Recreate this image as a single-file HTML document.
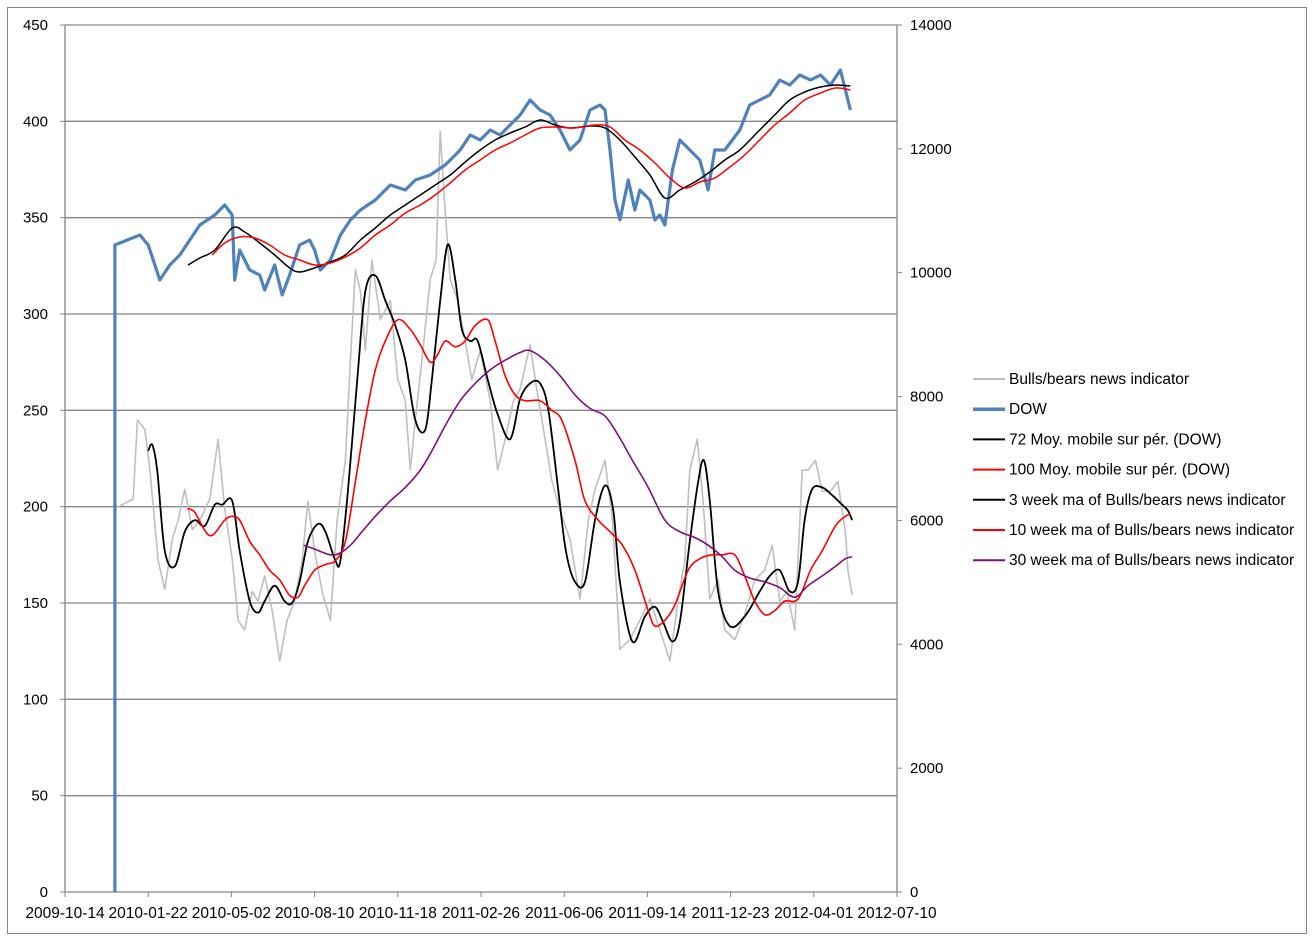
<!DOCTYPE html>
<html><head><meta charset="utf-8"><style>
body{margin:0;background:#fff;}
svg{display:block;font-family:"Liberation Sans",sans-serif;}
</style></head><body>
<svg id="chart" width="1314" height="941" xmlns="http://www.w3.org/2000/svg">
<rect x="7.5" y="7.5" width="1299" height="926" fill="#fff" stroke="#868686"/>
<g id="grid"></g><g id="axes"></g><g id="series"></g><g id="legend"></g>
</svg>
<script>
const leftTicks=[0,50,100,150,200,250,300,350,400,450];
const rightTicks=[0,2000,4000,6000,8000,10000,12000,14000];
const dateLabels=["2009-10-14","2010-01-22","2010-05-02","2010-08-10","2010-11-18","2011-02-26","2011-06-06","2011-09-14","2011-12-23","2012-04-01","2012-07-10"];
// day offsets from 2009-10-14
const greyDays=[60,82,87,96,102,112,120,129,136,144,153,162,174,184,192,201,208,216,225,232,240,249,258,267,276,285,292,300,309,319,327,337,343,349,355,361,369,379,391,400,409,415,421,429,439,446,451,456,463,472,481,489,499,511,520,529,539,547,559,567,577,585,595,607,619,629,637,649,658,667,679,691,703,715,727,737,745,751,760,767,775,785,793,805,817,829,841,850,859,868,877,886,893,902,910,920,929,938,941,946];
const greyVals=[199,204,245,240,219,172,157,183,193,209,188,193,204,235,199,173,141,136,156,151,164,146,120,141,151,172,203,177,156,141,193,224,276,323,312,281,328,297,307,266,255,219,245,276,318,328,395,359,318,307,286,266,281,255,219,235,255,261,284,261,235,214,198,183,152,193,209,224,193,126,131,141,152,136,120,152,172,219,235,203,152,162,136,131,144,162,167,180,151,156,136,219,219,224,208,208,213,187,167,154];
const dowDays=[60,90,100,108,114,126,138,150,162,180,192,201,204,210,222,234,240,252,261,270,282,294,300,307,319,331,343,355,373,391,409,421,439,457,475,487,499,511,523,535,547,559,571,583,595,607,619,631,643,649,655,661,667,677,685,691,703,709,715,721,730,739,751,763,773,781,793,811,823,835,847,859,871,883,896,908,920,932,938,944];
const dowVals=[10448,10609,10448,10125,9883,10125,10286,10529,10771,10932,11094,10932,9883,10367,10044,9963,9721,10125,9640,9963,10448,10529,10367,10044,10206,10609,10851,11013,11174,11417,11336,11497,11578,11740,11982,12224,12143,12305,12224,12386,12547,12789,12628,12547,12305,11982,12143,12628,12708,12628,11982,11174,10851,11497,11013,11336,11174,10851,10932,10771,11659,12143,11982,11820,11336,11982,11982,12305,12708,12789,12870,13112,13031,13193,13112,13193,13031,13274,12951,12628];
const ma72Days=[148,162,180,201,216,234,252,270,282,300,319,337,355,373,391,409,427,445,463,481,499,517,535,553,571,589,607,631,649,667,685,703,721,739,757,775,793,811,835,853,871,889,908,926,944];
const ma72Vals=[10125,10238,10367,10722,10658,10480,10286,10077,10012,10077,10173,10286,10529,10722,10932,11094,11255,11417,11578,11788,11982,12143,12256,12353,12466,12386,12337,12369,12337,12143,11869,11578,11207,11336,11465,11627,11820,11982,12305,12547,12789,12918,12999,13031,13015];
const ma100Days=[177,192,210,228,246,264,282,300,319,337,355,373,391,409,427,445,463,481,499,517,535,553,571,589,613,637,655,673,691,709,727,745,763,781,799,817,835,853,871,889,908,926,944];
const ma100Vals=[10286,10480,10577,10561,10448,10286,10206,10125,10157,10254,10399,10609,10771,10965,11094,11255,11449,11659,11820,11982,12095,12224,12337,12353,12337,12386,12353,12143,11982,11772,11530,11368,11465,11530,11707,11901,12143,12386,12579,12789,12902,12983,12951];
const w3Days=[100,105,111,120,132,144,156,168,180,189,201,210,222,232,240,252,264,273,282,292,304,313,325,331,340,352,361,373,385,397,409,421,433,441,451,460,469,477,487,496,508,520,535,547,559,571,581,593,602,613,625,637,649,659,667,682,697,709,719,730,739,751,761,768,775,785,799,817,835,847,859,871,881,889,898,910,922,934,941,946];
const w3Vals=[229,232,218,177,169,187,193,190,201,201,203,177,151,145,151,159,151,150,161,182,191,187,172,172,208,270,312,320,307,294,276,245,240,266,307,336,318,292,286,286,266,248,235,256,264,264,250,208,177,161,161,193,211,198,161,130,143,148,140,130,140,182,213,224,203,156,138,143,156,164,167,156,161,193,209,210,206,201,198,193];
const w10Days=[147,156,174,192,201,210,222,234,246,258,270,280,288,300,313,325,337,349,361,373,385,400,415,427,439,448,457,469,481,493,508,517,529,541,553,571,585,597,613,625,641,655,670,685,701,709,721,733,749,763,778,790,805,817,829,841,853,865,881,896,910,926,938,944];
const w10Vals=[199,197,185,193,195,193,182,175,167,162,154,153,159,167,170,172,182,213,245,271,286,297,292,284,275,279,286,283,286,294,297,286,268,258,255,255,250,245,224,203,193,187,180,167,146,138,141,149,167,173,175,175,175,164,151,144,146,151,152,167,177,190,195,196];
const w30Days=[287,300,319,331,343,357,373,391,409,427,441,457,475,493,511,529,547,559,577,595,613,631,649,665,682,701,721,739,757,773,790,805,823,841,859,877,893,910,926,938,946];
const w30Vals=[180,178,175,176,180,187,195,203,210,219,229,242,255,264,271,276,280,281,276,268,258,251,247,237,224,210,193,187,184,180,174,167,163,161,158,153,159,164,169,173,174];

const NS="http://www.w3.org/2000/svg";
const X0=65,X1=897,Y0=892,Y1=25;
const xOf=d=>X0+d*(X1-X0)/1000;
const yL=v=>Y0-v*(Y0-Y1)/450;
const yR=v=>Y0-v*(Y0-Y1)/14000;
function mk(tag,attrs,parent){const e=document.createElementNS(NS,tag);for(const k in attrs)e.setAttribute(k,attrs[k]);parent.appendChild(e);return e;}
const grid=document.getElementById('grid'),axes=document.getElementById('axes'),series=document.getElementById('series'),legend=document.getElementById('legend');
leftTicks.forEach(v=>{
  if(v>0){const g=mk('line',{x1:X0,x2:X1,y1:yL(v),y2:yL(v),stroke:'#868686','stroke-width':1.3},grid);
  
  }
  mk('line',{x1:X0-5,x2:X0,y1:yL(v),y2:yL(v),stroke:'#868686'},axes);
  const t=mk('text',{x:48,y:yL(v)+5,'text-anchor':'end','font-size':15,fill:'#000'},axes);t.textContent=v;
  
  
});
rightTicks.forEach(v=>{
  mk('line',{x1:X1,x2:X1+5,y1:yR(v),y2:yR(v),stroke:'#868686'},axes);
  const t=mk('text',{x:910,y:yR(v)+5,'font-size':15,fill:'#000'},axes);t.textContent=v;
  
  
});
dateLabels.forEach((s,i)=>{
  const x=xOf(i*100);
  mk('line',{x1:x,x2:x,y1:Y0,y2:Y0+5,stroke:'#868686'},axes);
  const t=mk('text',{x:x,y:918,'text-anchor':'middle','font-size':15.5,fill:'#000'},axes);t.textContent=s;
  
  
});
[[X0,Y1,X0,Y0],[X1,Y1,X1,Y0],[X0,Y0,X1,Y0]].forEach(a=>{const l=mk('line',{x1:a[0],y1:a[1],x2:a[2],y2:a[3],stroke:'#868686','stroke-width':1.3},axes);
  
  });
function pathD(P,smooth){
  let d='M'+P[0][0].toFixed(1)+','+P[0][1].toFixed(1);
  for(let i=1;i<P.length;i++){
    if(!smooth){d+=' L'+P[i][0].toFixed(1)+','+P[i][1].toFixed(1);continue;}
    const p0=P[Math.max(0,i-2)],p1=P[i-1],p2=P[i],p3=P[Math.min(P.length-1,i+1)];
    const c1=[p1[0]+(p2[0]-p0[0])/6,p1[1]+(p2[1]-p0[1])/6],c2=[p2[0]-(p3[0]-p1[0])/6,p2[1]-(p3[1]-p1[1])/6];
    d+=' C'+c1[0].toFixed(1)+','+c1[1].toFixed(1)+' '+c2[0].toFixed(1)+','+c2[1].toFixed(1)+' '+p2[0].toFixed(1)+','+p2[1].toFixed(1);
  }
  return d;
}
function line(days,vals,yf,color,w,name,smooth,pre){
  let P=days.map((d,i)=>[xOf(d),yf(vals[i])]);
  if(pre)P=[pre].concat(P);
  const p=mk('path',{d:pathD(P,smooth),fill:'none',stroke:color,'stroke-width':w,'stroke-linejoin':'round'},series);
  
  
}
line(greyDays,greyVals,yL,'#bfbfbf',1.6,'bulls-bears-line',false);
line(dowDays,dowVals,yR,'#4f81bd',3.2,'dow-line',false,[xOf(dowDays[0]),Y0]);
line(ma72Days,ma72Vals,yR,'#000',1.5,'dow-72-ma-line',true);
line(ma100Days,ma100Vals,yR,'#ff0000',1.5,'dow-100-ma-line',true);
line(w3Days,w3Vals,yL,'#000',1.8,'bb-3week-ma-line',true);
line(w10Days,w10Vals,yL,'#ff0000',1.6,'bb-10week-ma-line',true);
line(w30Days,w30Vals,yL,'#7f0f7f',1.6,'bb-30week-ma-line',true);
const legendItems=[["Bulls/bears news indicator","#bfbfbf",2],["DOW","#4f81bd",3.5],["72 Moy. mobile sur pér. (DOW)","#000",2],["100 Moy. mobile sur pér. (DOW)","#ff0000",2],["3 week ma of Bulls/bears news indicator","#000",2],["10 week ma of Bulls/bears news indicator","#ff0000",2],["30 week ma of Bulls/bears news indicator","#7f0f7f",2]];
legendItems.forEach((it,i)=>{
  const y=379+i*30.2;
  const g=mk('g',{},legend);
  
  
  mk('line',{x1:973,x2:1005,y1:y,y2:y,stroke:it[1],'stroke-width':it[2]},g);
  const t=mk('text',{x:1009,y:y+5,'font-size':15.5,fill:'#000'},g);t.textContent=it[0];
});
</script>
</body></html>
